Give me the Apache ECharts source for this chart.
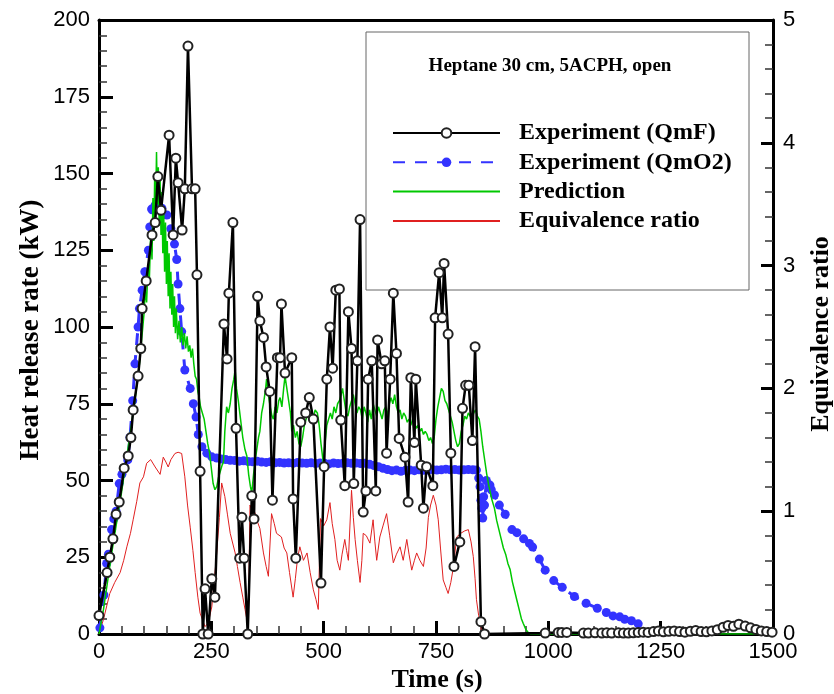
<!DOCTYPE html>
<html>
<head>
<meta charset="utf-8">
<script src="https://cdn.jsdelivr.net/npm/echarts@6/dist/echarts.min.js"></script>
<style>html,body{margin:0;padding:0;background:#fff}#c{width:834px;height:694px}</style>
</head>
<body>
<div id="c"></div>
<script>
// ---- Data ----
const xTicks = [0, 250, 500, 750, 1000, 1250, 1500];
const yLeftTicks = [0, 25, 50, 75, 100, 125, 150, 175, 200];
const yRightTicks = [0, 1, 2, 3, 4, 5];
const seriesNames = ['Experiment (QmF)', 'Experiment (QmO2)', 'Prediction', 'Equivalence ratio'];

const qmfTime = [0,18,24,31,38,45,56,65,71,76,87,93,96,105,118,125,131,138,156,165,171,176,185,191,198,207,214,218,225,231,236,243,251,258,278,285,289,298,305,313,318,323,331,340,345,353,358,366,372,380,386,397,403,406,414,429,432,438,449,460,468,477,494,501,507,514,520,527,535,538,547,555,562,567,575,581,588,594,599,607,616,620,629,636,640,648,655,662,668,681,688,694,702,705,717,722,729,743,748,757,764,768,777,783,790,803,809,816,823,831,837,850,858,993,1022,1030,1041,1078,1089,1104,1119,1130,1141,1156,1167,1178,1189,1200,1211,1222,1234,1245,1256,1268,1280,1292,1304,1316,1328,1340,1352,1364,1376,1389,1400,1412,1424,1438,1450,1462,1474,1486,1498];
const qmfValue = [6,20,25,31,39,43,54,58,64,73,84,93,106,115,130,134,149,138,162.5,130,155,147,131.6,145,191.5,145,145,117,53,0,14.7,0,18,12,101,89.6,111,134,67,24.7,38,24.7,0,45,37.5,110,102,96.6,87,79,43.6,90,90,107.5,85,90,44,24.7,69,72,77,70,16.6,54.5,83,100,86.6,112,112.4,69.7,48.3,105,93,49,89,135,39.7,46.6,83,89,46.6,95.8,88,89,58.9,83,111,91.4,63.7,57.6,43,83.5,62.4,83,55,41,54.5,48.3,103,117.7,103,120.7,97.7,58.9,22,30,73.5,81,81,63,93.6,4,0,0.3,0.5,0.5,0.5,0.3,0.3,0.4,0.3,0.4,0.3,0.4,0.3,0.3,0.4,0.5,0.6,0.5,0.8,1.0,0.7,0.9,1.0,0.8,0.6,0.9,1.1,0.8,0.7,1.0,1.4,2.2,2.8,2.5,3.2,2.6,2.0,1.5,1.0,0.8,0.6];

const qmo2Time = [2,11,17,21,28,33,38,45,51,57,64,69,75,80,87,90,96,102,110,113,117,125,131,140,151,160,168,173,176,180,184,191,203,210,216,221,229,240,251,262,272,282,292,302,312,322,332,342,352,362,372,382,392,402,412,422,432,442,452,462,472,482,492,502,512,522,532,542,552,562,572,582,592,602,612,622,632,642,652,662,672,682,692,702,712,722,732,742,752,762,772,782,792,802,812,822,832,840,845,848,850,852,854,856,858,862,870,873,880,891,904,919,930,945,958,965,980,993,1012,1031,1058,1084,1109,1129,1144,1159,1170,1185,1200];
const qmo2Value = [2,12.7,23,26,34,37.5,40,49,52,54,56.7,64,76,88,100,106,112,118,125,132.6,138.4,139.7,140.7,138.7,136.5,132,127,122,114,106,98.5,86,80,75,70.7,65,61,58.9,57.7,57.3,57,56.8,56.6,56.5,56.3,56.4,56.2,56.1,56.3,56.0,55.9,56.1,55.8,55.9,55.7,55.8,55.6,55.9,55.7,55.6,55.8,55.5,55.7,55.6,55.4,55.7,55.5,55.6,55.8,55.6,55.7,55.5,55.6,55.3,54.9,54.5,54.0,53.6,53.2,53.4,53.0,53.3,53.4,53.2,53.5,53.3,53.4,53.6,53.4,53.5,53.7,53.5,53.6,53.4,53.5,53.6,53.5,53.4,50.8,48,43.6,41,37.8,44.7,42,50,48.5,47,45.3,42,39,34,33,31,29.5,28.3,24.4,20.8,17.4,15.2,12.2,10,8.4,7,5.9,5.6,4.8,4.3,3.3];

const predTime = [0,10,20,30,40,50,60,70,80,90,95,100,103,106,109,112,115,118,120,122,124,126,128,130,132,134,136,138,140,142,144,146,148,150,152,154,156,158,160,162,164,166,168,170,172,175,178,181,184,187,190,193,196,199,202,205,208,211,214,217,220,223,226,230,234,238,242,246,250,254,258,262,266,270,274,277,280,284,288,292,296,300,303,306,310,315,320,325,329,333,337,340,344,347,351,355,358,362,366,370,373,377,381,385,388,392,396,400,403,407,411,414,418,422,426,429,433,437,441,445,449,453,457,461,465,469,473,477,481,486,490,494,499,503,507,511,515,519,523,527,531,535,539,542,546,550,554,558,562,566,570,574,578,582,586,590,594,598,602,606,610,614,618,622,626,630,634,638,642,646,650,654,658,662,666,670,674,678,682,686,690,694,698,702,706,710,714,718,722,726,730,734,738,742,746,750,754,758,762,766,770,774,778,782,786,790,794,798,802,806,810,814,818,822,826,830,834,838,842,846,850,854,858,863,868,874,880,885,890,895,900,905,910,915,920,925,930,935,940,944,950,955,960,1500];
const predValue = [0,8,18,28,37,46,56,66,76,88,96,104,112,108,120,115,130,122,142,128,150,138,157,140,152,133,148,130,144,124,138,118,134,114,128,110,124,106,118,104,114,100,110,98,106,96,102,95,100,94,98,93,97,92,94,90,93,88,84,83,79,77,74,72,70,66,62,59,54,49,47,48,51,53,55,56,66,74,72,75,80,83,86,80,76,70,64,60,58,52,48,46,52,56,60,64,66,72,75,79,83,78,74,71,70,74,72,76,77,74,80,84,80,76,72,66,68,64,66,62,61,64,68,70,72,69,72,70,73,72,68,62,56,62,68,70,72,70,74,72,75,76,78,80,76,72,71,74,76,78,75,72,74,73,70,74,72,69,73,70,75,73,71,74,72,70,73,74,71,75,77,75,78,74,72,73,70,72,71,69,70,68,70,69,67,68,66,67,65,66,65,63,64,62,64,70,74,77,80,79,76,75,73,71,69,66,63,61,62,66,68,71,70,72,71,70,72,73,71,70,66,61,57,52,48,44,41,37,34,31,28,26,23,21,17,14,11,8,5,3.5,1.5,0.5,0,0];

const eqTime = [0,10,24,35,47,55,62,70,76,84,91,99,106,115,125,136,143,149,154,160,169,176,184,191,197,203,209,214,220,225,236,243,251,257,262,268,273,280,286,292,303,308,314,320,325,332,334,336,341,347,352,358,366,372,377,384,390,395,406,412,418,424,432,437,442,447,455,463,470,477,483,488,493,500,507,514,519,525,530,536,541,547,551,555,562,566,570,575,581,585,588,595,603,610,614,618,625,632,640,647,655,662,670,677,685,690,696,702,707,714,722,728,733,738,744,750,755,760,766,772,777,783,789,796,805,814,822,828,833,837,840,845,848,852,856];
const eqValue = [0,0.12,0.33,0.42,0.5,0.6,0.71,0.82,0.93,1.08,1.23,1.28,1.39,1.42,1.36,1.3,1.44,1.4,1.36,1.42,1.47,1.48,1.47,1.28,1.05,0.87,0.68,0.5,0.3,0.17,0.06,0.09,0.22,0.45,0.66,0.95,1.23,1.12,0.97,0.82,0.66,0.55,0.42,0.3,0.2,0.06,0.5,1.05,1.0,0.99,0.92,0.86,0.66,0.55,0.47,0.98,0.9,0.82,0.79,0.7,0.66,0.5,0.3,0.45,0.62,0.71,0.6,0.66,0.5,0.36,0.28,0.2,0.94,0.88,0.93,1.07,0.9,0.77,0.6,0.52,0.65,0.77,0.68,0.6,1.17,0.95,0.77,0.6,0.42,0.6,0.82,0.8,0.74,0.93,0.75,0.6,0.79,0.88,0.98,0.8,0.58,0.65,0.71,0.6,0.77,0.65,0.52,0.6,0.66,0.6,0.55,0.7,0.95,1.05,1.13,1.05,0.93,0.7,0.44,0.38,0.33,0.42,0.55,0.79,0.82,0.84,0.85,0.75,0.63,0.45,0.28,0.15,0.09,0.02,0];

const zip = (a, b) => a.map((t, i) => [t, b[i]]);

const chart = echarts.init(document.getElementById('c'), null, {renderer: 'canvas'});
const serif = 'Liberation Serif, Times New Roman, serif';
const sans = 'Liberation Sans, Arial, sans-serif';
const plainNum = v => String(v);
const axisLineStyle = {show: true, onZero: false, lineStyle: {color: '#000', width: 3}};
const axisCommon = {
  axisLine: axisLineStyle,
  axisTick: {show: true, inside: true, length: 14, lineStyle: {color: '#000', width: 3}},
  minorTick: {show: true, splitNumber: 5, length: 8, lineStyle: {color: '#333', width: 1.5}},
  splitLine: {show: false},
  axisLabel: {color: '#000', fontFamily: sans, fontSize: 22, formatter: plainNum}
};

chart.setOption({
  animation: false,
  backgroundColor: '#fff',
  grid: {left: 99, right: 61, top: 20, bottom: 60},
  xAxis: [
    Object.assign({}, axisCommon, {type: 'value', min: xTicks[0], max: xTicks[xTicks.length-1], interval: xTicks[1]-xTicks[0],
      axisTick: {show: true, inside: true, length: 13, lineStyle: {color: '#000', width: 3}},
      axisLabel: Object.assign({}, axisCommon.axisLabel, {margin: 7})}),
    {type: 'value', position: 'top', min: xTicks[0], max: xTicks[xTicks.length-1], axisLine: axisLineStyle,
      axisTick: {show: false}, axisLabel: {show: false}, splitLine: {show: false}}
  ],
  yAxis: [
    Object.assign({}, axisCommon, {type: 'value', min: yLeftTicks[0], max: yLeftTicks[yLeftTicks.length-1], interval: yLeftTicks[1]-yLeftTicks[0],
      axisLabel: Object.assign({}, axisCommon.axisLabel, {margin: 9})}),
    Object.assign({}, axisCommon, {type: 'value', position: 'right', min: yRightTicks[0], max: yRightTicks[yRightTicks.length-1], interval: yRightTicks[1]-yRightTicks[0],
      axisTick: {show: true, inside: true, length: 12, lineStyle: {color: '#000', width: 3}},
      axisLabel: Object.assign({}, axisCommon.axisLabel, {margin: 10})})
  ],
  legend: {
    orient: 'vertical', left: 392, top: 121, padding: 0, itemWidth: 107, itemHeight: 12, itemGap: 5.3,
    data: [
      {name: seriesNames[0]},
      {name: seriesNames[1]},
      {name: seriesNames[2], itemStyle: {opacity: 0}},
      {name: seriesNames[3], itemStyle: {opacity: 0}}
    ],
    textStyle: {fontFamily: serif, fontWeight: 'bold', fontSize: 24, lineHeight: 24, color: '#000', padding: [0, 0, 0, 14]}
  },
  graphic: [
    {type: 'rect', z: 0, shape: {x: 366, y: 32, width: 383, height: 258}, style: {fill: 'none', stroke: '#666', lineWidth: 1}},
    {type: 'text', x: 550, y: 66, style: {text: 'Heptane 30 cm, 5ACPH, open', font: 'bold 19px ' + serif, fill: '#000', textAlign: 'center', textVerticalAlign: 'middle'}},
    {type: 'text', x: 437, y: 680, style: {text: 'Time (s)', font: 'bold 26px ' + serif, fill: '#000', textAlign: 'center', textVerticalAlign: 'middle'}},
    {type: 'text', x: 31, y: 330, rotation: Math.PI/2, style: {text: 'Heat release rate (kW)', font: 'bold 27px ' + serif, fill: '#000', textAlign: 'center', textVerticalAlign: 'middle'}},
    {type: 'text', x: 821, y: 334, rotation: Math.PI/2, style: {text: 'Equivalence ratio', font: 'bold 26px ' + serif, fill: '#000', textAlign: 'center', textVerticalAlign: 'middle'}}
  ],
  series: [
    {name: seriesNames[3], type: 'line', yAxisIndex: 1, data: zip(eqTime, eqValue), symbol: 'none',
      lineStyle: {color: '#e02020', width: 1}, itemStyle: {color: '#e02020'}, z: 2},
    {name: seriesNames[1], type: 'line', data: zip(qmo2Time, qmo2Value), symbol: 'circle', symbolSize: 9, showSymbol: true,
      lineStyle: {color: '#3333ff', width: 3, type: [12, 10]}, itemStyle: {color: '#3333ff'}, z: 3},
    {name: seriesNames[2], type: 'line', data: zip(predTime, predValue), symbol: 'none',
      lineStyle: {color: '#00c800', width: 1.5}, itemStyle: {color: '#00c800'}, z: 4},
    {name: seriesNames[0], type: 'line', data: zip(qmfTime, qmfValue), symbol: 'emptyCircle', symbolSize: 9, showSymbol: true,
      lineStyle: {color: '#000', width: 2.5}, itemStyle: {color: '#222', borderWidth: 1}, z: 5}
  ]
});
</script>
</body>
</html>
